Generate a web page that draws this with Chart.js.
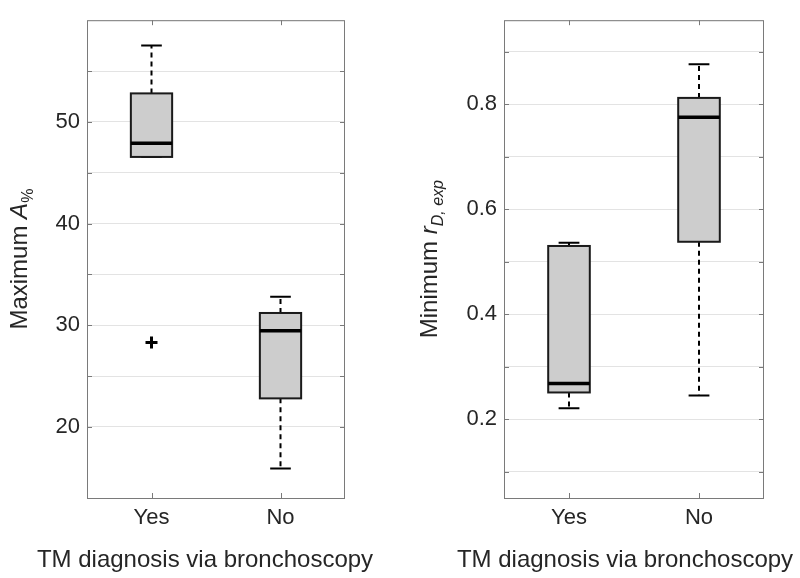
<!DOCTYPE html>
<html>
<head>
<meta charset="utf-8">
<script src="https://cdn.jsdelivr.net/npm/chart.js@4"></script>
<style>
  body { margin: 0; background: #fff; }
  .row { display: flex; width: 800px; height: 578px; }
  canvas { display: block; }
</style>
</head>
<body>
<div class="row">
  <canvas id="chart-amax" width="400" height="578"></canvas>
  <canvas id="chart-rd" width="400" height="578"></canvas>
</div>
<script>
// categories
const categories = ['Yes', 'No'];

// Maximum A% (left panel)
const amaxQ1 = [46.55, 22.8];
const amaxQ3 = [52.8, 31.2];
const amaxMedian = [47.9, 29.45];
const amaxLow = [46.55, 15.9];
const amaxHigh = [57.5, 32.8];
const amaxOutliers = [28.3, null];
const amaxTicks = [20, 30, 40, 50];

// Minimum r_D,exp (right panel)
const rdQ1 = [0.251, 0.538];
const rdQ3 = [0.530, 0.812];
const rdMedian = [0.268, 0.775];
const rdLow = [0.221, 0.245];
const rdHigh = [0.536, 0.876];
const rdOutliers = [null, null];
const rdTicks = [0.2, 0.4, 0.6, 0.8];

const xTitle = 'TM diagnosis via bronchoscopy';
const textColor = '#262626';
const axisColor = '#7a7a7a';
const fontName = '"Liberation Sans", Arial, Helvetica, sans-serif';

const big = '24px ' + fontName;
const bigItalic = 'italic 24px ' + fontName;
const smallFont = '16px ' + fontName;
const smallItalic = 'italic 16px ' + fontName;

// per panel: box stats + y title pieces (kept out of chart options so they stay plain objects)
const panels = {
    'chart-amax': {
        q1: amaxQ1, q3: amaxQ3, median: amaxMedian, low: amaxLow, high: amaxHigh,
        yTitle: [{ text: 'Maximum ', style: big }, { text: 'A', style: bigItalic }, { text: '%', style: smallFont, shift: 6 }],
        yTitleX: 27, titleShift: -11
    },
    'chart-rd': {
        q1: rdQ1, q3: rdQ3, median: rdMedian, low: rdLow, high: rdHigh,
        yTitle: [{ text: 'Minimum ', style: big }, { text: 'r', style: bigItalic }, { text: 'D, exp', style: smallItalic, shift: 6 }],
        yTitleX: 37, titleShift: -9
    }
};

// draws text made of several pieces (normal / italic / subscript), rotated for the y title
const drawRich = (ctx, parts, cy, baseline) => {
    const widths = parts.map(p => {
        ctx.font = p.style;
        return ctx.measureText(p.text).width;
    });
    const total = widths.reduce((s, w) => s + w, 0);
    ctx.save();
    ctx.translate(baseline, cy);
    ctx.rotate(-Math.PI / 2);
    ctx.fillStyle = textColor;
    ctx.textBaseline = 'alphabetic';
    ctx.textAlign = 'left';
    let x = -total / 2;
    parts.forEach((p, i) => {
        ctx.font = p.style;
        ctx.fillText(p.text, x, p.shift || 0);
        x += widths[i];
    });
    ctx.restore();
};

const boxPlot = {
    id: 'boxPlot',
    afterDatasetsDraw(chart) {
        const p = panels[chart.canvas.id];
        const ctx = chart.ctx;
        const xs = chart.scales.x;
        const ys = chart.scales.y;
        const meta = chart.getDatasetMeta(0);
        ctx.save();
        categories.forEach((c, i) => {
            const x = xs.getPixelForValue(i);
            const half = meta.data[i].width / 2;
            const cap = half / 2;
            // whiskers
            ctx.strokeStyle = '#000';
            ctx.lineWidth = 2;
            ctx.setLineDash([5, 4]);
            ctx.beginPath();
            ctx.moveTo(x, ys.getPixelForValue(p.q3[i]));
            ctx.lineTo(x, ys.getPixelForValue(p.high[i]));
            ctx.moveTo(x, ys.getPixelForValue(p.q1[i]));
            ctx.lineTo(x, ys.getPixelForValue(p.low[i]));
            ctx.stroke();
            ctx.setLineDash([]);
            // caps
            ctx.beginPath();
            [p.high[i], p.low[i]].forEach(v => {
                const y = ys.getPixelForValue(v);
                ctx.moveTo(x - cap, y);
                ctx.lineTo(x + cap, y);
            });
            ctx.stroke();
            // box edge on top of the whiskers
            ctx.lineWidth = 2;
            ctx.strokeStyle = '#1a1a1a';
            const yTop = ys.getPixelForValue(p.q3[i]);
            const yBot = ys.getPixelForValue(p.q1[i]);
            ctx.strokeRect(x - half, yTop, half * 2, yBot - yTop);
            // median
            const ym = ys.getPixelForValue(p.median[i]);
            ctx.lineWidth = 3.5;
            ctx.strokeStyle = '#000';
            ctx.beginPath();
            ctx.moveTo(x - half, ym);
            ctx.lineTo(x + half, ym);
            ctx.stroke();
        });
        ctx.restore();
    },
    afterDraw(chart) {
        const p = panels[chart.canvas.id];
        const ctx = chart.ctx;
        const a = chart.chartArea;
        const xs = chart.scales.x;
        const ys = chart.scales.y;
        ctx.save();
        // axes box with inward ticks on every side
        ctx.strokeStyle = axisColor;
        ctx.lineWidth = 1;
        ctx.strokeRect(a.left + 0.5, a.top + 0.5, a.right - a.left - 1, a.bottom - a.top);
        ctx.beginPath();
        ys.ticks.forEach(t => {
            const y = Math.round(ys.getPixelForValue(t.value)) + 0.5;
            if (y <= a.top + 1 || y >= a.bottom - 1) return;
            ctx.moveTo(a.left, y); ctx.lineTo(a.left + 5, y);
            ctx.moveTo(a.right, y); ctx.lineTo(a.right - 5, y);
        });
        categories.forEach((c, i) => {
            const x = Math.round(xs.getPixelForValue(i)) + 0.5;
            ctx.moveTo(x, a.top); ctx.lineTo(x, a.top + 5);
            ctx.moveTo(x, a.bottom); ctx.lineTo(x, a.bottom - 5);
        });
        ctx.stroke();
        // x title
        ctx.fillStyle = textColor;
        ctx.font = big;
        ctx.textAlign = 'center';
        ctx.textBaseline = 'alphabetic';
        ctx.fillText(xTitle, (a.left + a.right) / 2 + p.titleShift, 567);
        // y title
        drawRich(ctx, p.yTitle, (a.top + a.bottom) / 2, p.yTitleX);
        ctx.restore();
    }
};

const makeChart = (id, q1, q3, outl, yMin, yMax, step, labelTicks, digits, yWidth, padRight) => {
    const ctx = document.getElementById(id).getContext('2d');
    const boxes = categories.map((c, i) => [q1[i], q3[i]]);
    return new Chart(ctx, {
        type: 'bar',
        data: {
            labels: categories,
            datasets: [{
                data: boxes,
                backgroundColor: '#cdcdcd',
                borderWidth: 0,
                barPercentage: 0.32,
                categoryPercentage: 1
            }, {
                type: 'line',
                data: outl,
                showLine: false,
                pointStyle: 'cross',
                pointRadius: 6,
                pointBorderWidth: 3,
                borderColor: '#000',
                backgroundColor: '#000'
            }]
        },
        options: {
            responsive: false,
            animation: false,
            layout: { padding: { top: 12, right: padRight, left: 0, bottom: 0 } },
            plugins: {
                legend: { display: false },
                tooltip: { enabled: false }
            },
            scales: {
                x: {
                    offset: true,
                    grid: { display: false, drawTicks: false },
                    border: { display: false },
                    ticks: { color: textColor, font: { family: fontName, size: 22 }, padding: 7 },
                    afterFit: (scale) => { scale.height = 80; }
                },
                y: {
                    min: yMin,
                    max: yMax,
                    grid: { color: '#e3e3e3', lineWidth: 1, drawTicks: false },
                    border: { display: false },
                    ticks: {
                        stepSize: step,
                        color: textColor,
                        padding: 7,
                        font: { family: fontName, size: 22 },
                        callback: (v) => {
                            const hit = labelTicks.find(t => Math.abs(t - v) < 1e-6);
                            return hit === undefined ? '' : hit.toFixed(digits);
                        }
                    },
                    afterFit: (scale) => { scale.width = yWidth; }
                }
            }
        },
        plugins: [boxPlot]
    });
};

makeChart('chart-amax', amaxQ1, amaxQ3, amaxOutliers, 13, 60, 5, amaxTicks, 0, 87, 55);
makeChart('chart-rd', rdQ1, rdQ3, rdOutliers, 0.05, 0.96, 0.1, rdTicks, 1, 104, 36);
</script>
</body>
</html>
